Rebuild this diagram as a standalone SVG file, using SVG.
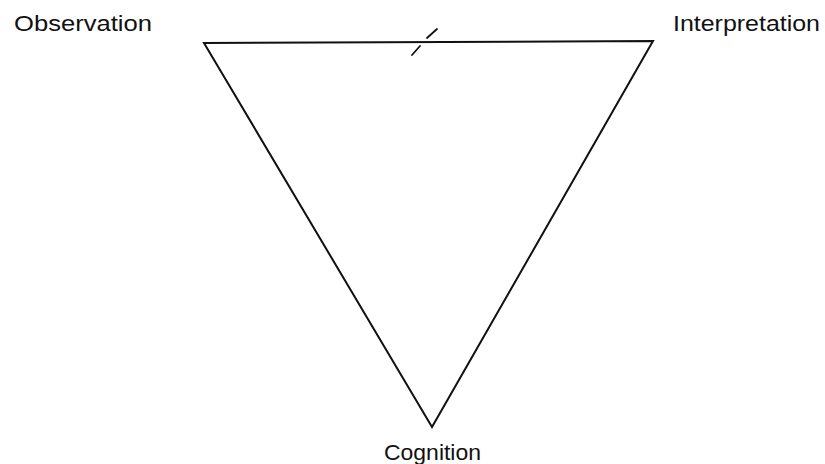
<svg xmlns="http://www.w3.org/2000/svg" width="825" height="464" viewBox="0 0 825 464">
<style>
.lbl{font-family:"Liberation Sans",Arial,sans-serif;font-size:22px;fill:#111}
.edge{stroke:#111;stroke-width:2;fill:none;stroke-linecap:round;stroke-linejoin:miter}
.tick{stroke:#111;stroke-width:1.8;fill:none;stroke-linecap:round}
</style>
<rect width="825" height="464" fill="#fff"/>
<g id="connectors">
<polygon class="edge" points="204,43 653,41 432,427"/>
<line class="tick" x1="437" y1="29" x2="427" y2="38"/>
<line class="tick" x1="420" y1="46" x2="412" y2="55"/>
</g>
<g id="observation"><text class="lbl" x="14" y="31" textLength="138" lengthAdjust="spacingAndGlyphs">Observation</text></g>
<g id="interpretation"><text class="lbl" x="673" y="31" textLength="147" lengthAdjust="spacingAndGlyphs">Interpretation</text></g>
<g id="cognition"><text class="lbl" x="384" y="460" textLength="97" lengthAdjust="spacingAndGlyphs">Cognition</text></g>
</svg>
